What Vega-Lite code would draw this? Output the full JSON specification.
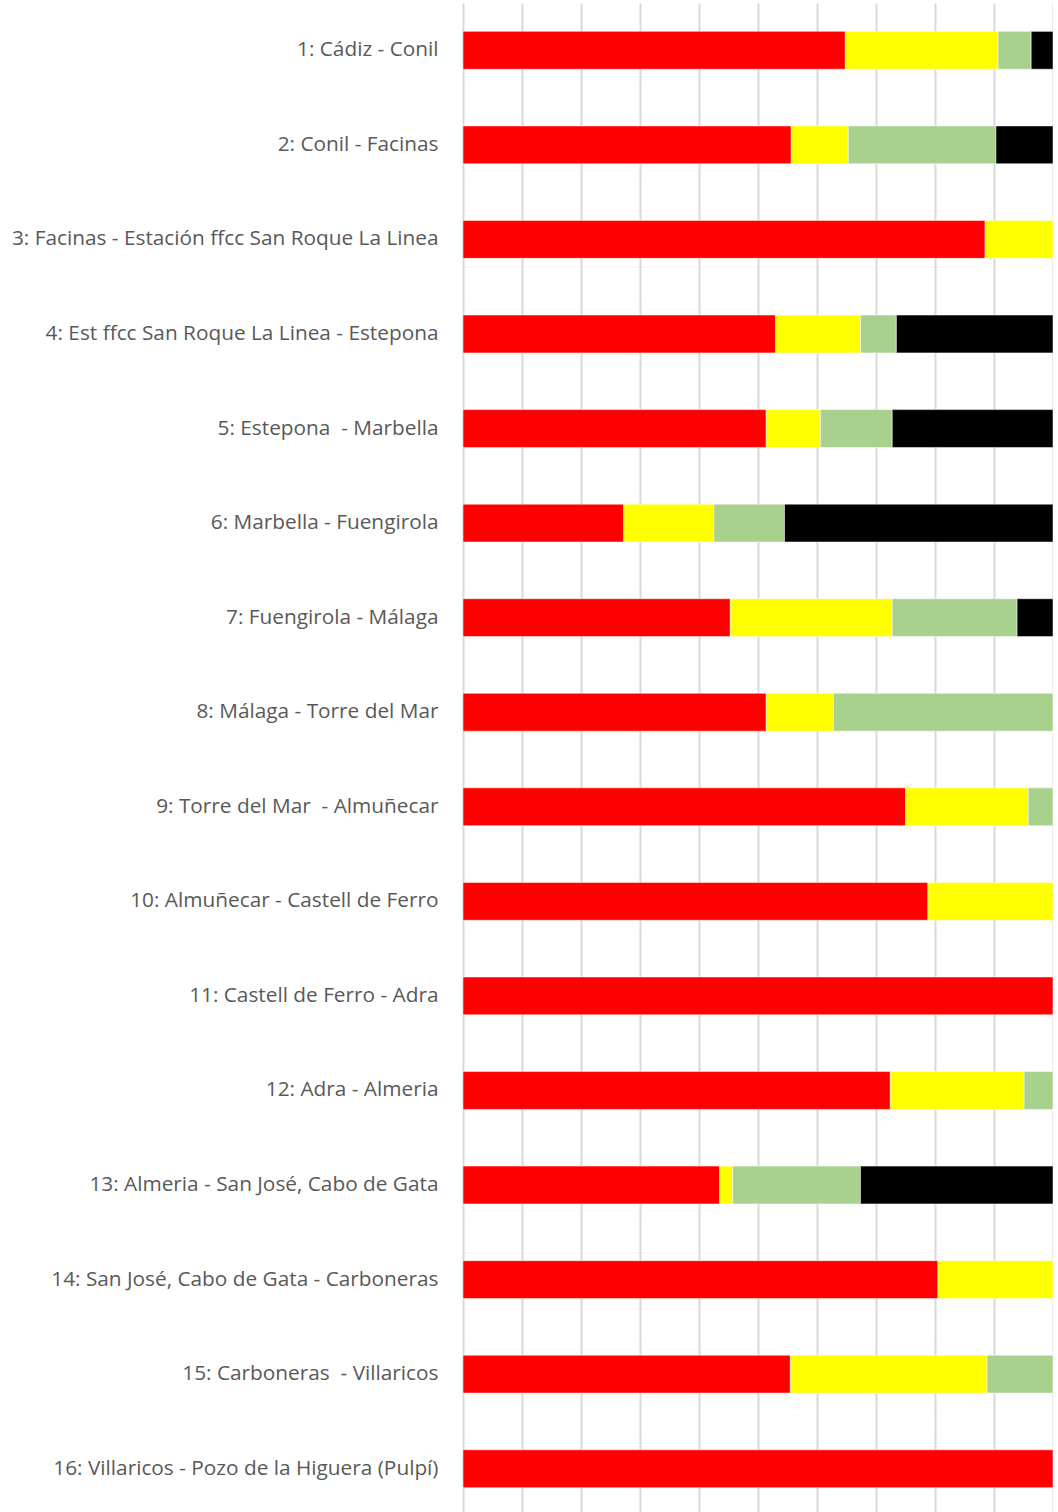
{
  "$schema": "https://vega.github.io/schema/vega-lite/v6.json",
  "autosize": {"type": "none"},
  "padding": {"left": 463, "top": 3, "right": 0, "bottom": 0},
  "width": 590,
  "height": 1513,
  "background": "white",
  "data": {"values": [
    {"tramo": "1: Cádiz - Conil", "i": 1, "cat": "A", "o": 1, "v": 64.8},
    {"tramo": "1: Cádiz - Conil", "i": 1, "cat": "B", "o": 2, "v": 25.9},
    {"tramo": "1: Cádiz - Conil", "i": 1, "cat": "C", "o": 3, "v": 5.6},
    {"tramo": "1: Cádiz - Conil", "i": 1, "cat": "D", "o": 4, "v": 3.7},
    {"tramo": "2: Conil - Facinas", "i": 2, "cat": "A", "o": 1, "v": 55.8},
    {"tramo": "2: Conil - Facinas", "i": 2, "cat": "B", "o": 2, "v": 9.7},
    {"tramo": "2: Conil - Facinas", "i": 2, "cat": "C", "o": 3, "v": 25.1},
    {"tramo": "2: Conil - Facinas", "i": 2, "cat": "D", "o": 4, "v": 9.7},
    {"tramo": "3: Facinas - Estación ffcc San Roque La Linea", "i": 3, "cat": "A", "o": 1, "v": 88.5},
    {"tramo": "3: Facinas - Estación ffcc San Roque La Linea", "i": 3, "cat": "B", "o": 2, "v": 11.5},
    {"tramo": "4: Est ffcc San Roque La Linea - Estepona", "i": 4, "cat": "A", "o": 1, "v": 53.1},
    {"tramo": "4: Est ffcc San Roque La Linea - Estepona", "i": 4, "cat": "B", "o": 2, "v": 14.4},
    {"tramo": "4: Est ffcc San Roque La Linea - Estepona", "i": 4, "cat": "C", "o": 3, "v": 6.1},
    {"tramo": "4: Est ffcc San Roque La Linea - Estepona", "i": 4, "cat": "D", "o": 4, "v": 26.6},
    {"tramo": "5: Estepona \u00a0- Marbella", "i": 5, "cat": "A", "o": 1, "v": 51.5},
    {"tramo": "5: Estepona \u00a0- Marbella", "i": 5, "cat": "B", "o": 2, "v": 9.2},
    {"tramo": "5: Estepona \u00a0- Marbella", "i": 5, "cat": "C", "o": 3, "v": 12.2},
    {"tramo": "5: Estepona \u00a0- Marbella", "i": 5, "cat": "D", "o": 4, "v": 27.3},
    {"tramo": "6: Marbella - Fuengirola", "i": 6, "cat": "A", "o": 1, "v": 27.3},
    {"tramo": "6: Marbella - Fuengirola", "i": 6, "cat": "B", "o": 2, "v": 15.3},
    {"tramo": "6: Marbella - Fuengirola", "i": 6, "cat": "C", "o": 3, "v": 12.0},
    {"tramo": "6: Marbella - Fuengirola", "i": 6, "cat": "D", "o": 4, "v": 45.6},
    {"tramo": "7: Fuengirola - Málaga", "i": 7, "cat": "A", "o": 1, "v": 45.4},
    {"tramo": "7: Fuengirola - Málaga", "i": 7, "cat": "B", "o": 2, "v": 27.5},
    {"tramo": "7: Fuengirola - Málaga", "i": 7, "cat": "C", "o": 3, "v": 21.2},
    {"tramo": "7: Fuengirola - Málaga", "i": 7, "cat": "D", "o": 4, "v": 6.1},
    {"tramo": "8: Málaga - Torre del Mar", "i": 8, "cat": "A", "o": 1, "v": 51.5},
    {"tramo": "8: Málaga - Torre del Mar", "i": 8, "cat": "B", "o": 2, "v": 11.4},
    {"tramo": "8: Málaga - Torre del Mar", "i": 8, "cat": "C", "o": 3, "v": 37.3},
    {"tramo": "9: Torre del Mar \u00a0- Almuñecar", "i": 9, "cat": "A", "o": 1, "v": 75.1},
    {"tramo": "9: Torre del Mar \u00a0- Almuñecar", "i": 9, "cat": "B", "o": 2, "v": 20.8},
    {"tramo": "9: Torre del Mar \u00a0- Almuñecar", "i": 9, "cat": "C", "o": 3, "v": 4.2},
    {"tramo": "10: Almuñecar - Castell de Ferro", "i": 10, "cat": "A", "o": 1, "v": 78.8},
    {"tramo": "10: Almuñecar - Castell de Ferro", "i": 10, "cat": "B", "o": 2, "v": 21.2},
    {"tramo": "11: Castell de Ferro - Adra", "i": 11, "cat": "A", "o": 1, "v": 100},
    {"tramo": "12: Adra - Almeria", "i": 12, "cat": "A", "o": 1, "v": 72.5},
    {"tramo": "12: Adra - Almeria", "i": 12, "cat": "B", "o": 2, "v": 22.7},
    {"tramo": "12: Adra - Almeria", "i": 12, "cat": "C", "o": 3, "v": 4.9},
    {"tramo": "13: Almeria - San José, Cabo de Gata", "i": 13, "cat": "A", "o": 1, "v": 43.6},
    {"tramo": "13: Almeria - San José, Cabo de Gata", "i": 13, "cat": "B", "o": 2, "v": 2.2},
    {"tramo": "13: Almeria - San José, Cabo de Gata", "i": 13, "cat": "C", "o": 3, "v": 21.7},
    {"tramo": "13: Almeria - San José, Cabo de Gata", "i": 13, "cat": "D", "o": 4, "v": 32.7},
    {"tramo": "14: San José, Cabo de Gata - Carboneras", "i": 14, "cat": "A", "o": 1, "v": 80.5},
    {"tramo": "14: San José, Cabo de Gata - Carboneras", "i": 14, "cat": "B", "o": 2, "v": 19.5},
    {"tramo": "15: Carboneras \u00a0- Villaricos", "i": 15, "cat": "A", "o": 1, "v": 55.6},
    {"tramo": "15: Carboneras \u00a0- Villaricos", "i": 15, "cat": "B", "o": 2, "v": 33.4},
    {"tramo": "15: Carboneras \u00a0- Villaricos", "i": 15, "cat": "C", "o": 3, "v": 11.2},
    {"tramo": "16: Villaricos - Pozo de la Higuera (Pulpí)", "i": 16, "cat": "A", "o": 1, "v": 100}
  ]},
  "mark": {"type": "bar", "stroke": "#ffffff", "strokeWidth": 0.5},
  "encoding": {
    "y": {
      "field": "tramo", "type": "nominal",
      "sort": {"field": "i", "op": "min", "order": "ascending"},
      "scale": {"paddingInner": 0.6, "paddingOuter": 0.3},
      "axis": {
        "title": null, "domain": false, "ticks": false, "grid": false,
        "labelPadding": 25, "labelFont": "Open Sans", "labelFontSize": 20.8,
        "labelColor": "#595959", "labelLimit": 0
      }
    },
    "x": {
      "field": "v", "type": "quantitative", "stack": "normalize",
      "scale": {"domain": [0, 1], "nice": false},
      "axis": {
        "title": null, "labels": false, "ticks": false, "domain": false,
        "grid": true, "gridColor": "#d9d9d9", "gridWidth": 2,
        "values": [0, 0.1, 0.2, 0.3, 0.4, 0.5, 0.6, 0.7, 0.8, 0.9, 1]
      }
    },
    "color": {
      "field": "cat", "type": "nominal",
      "scale": {"domain": ["A", "B", "C", "D"], "range": ["#ff0000", "#ffff00", "#a9d18e", "#000000"]},
      "legend": null
    },
    "order": {"field": "o", "type": "quantitative"}
  },
  "config": {"view": {"stroke": null}}
}
